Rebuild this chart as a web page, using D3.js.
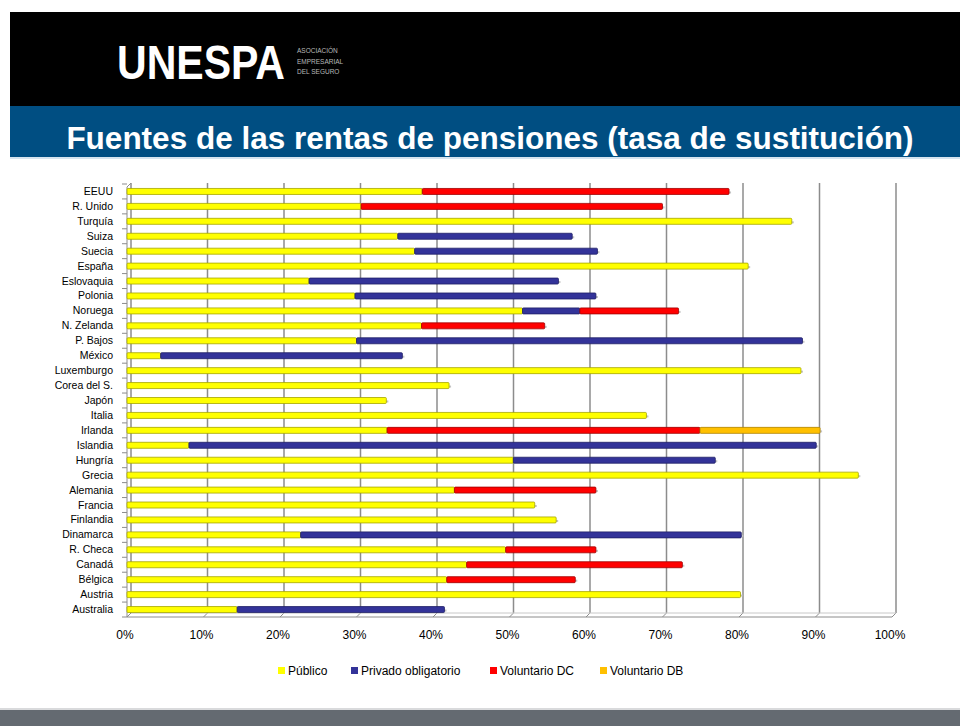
<!DOCTYPE html>
<html>
<head>
<meta charset="utf-8">
<script src="https://cdn.jsdelivr.net/npm/d3@7"></script>
<style>
  body { margin: 0; background: #fff; }
  text { font-family: "Liberation Sans", Arial, sans-serif; }
</style>
</head>
<body>
<script>
// data (tasa de sustitución, %)
var countries = ["EEUU", "R. Unido", "Turquía", "Suiza", "Suecia", "España", "Eslovaquia", "Polonia",
  "Noruega", "N. Zelanda", "P. Bajos", "México", "Luxemburgo", "Corea del S.", "Japón", "Italia",
  "Irlanda", "Islandia", "Hungría", "Grecia", "Alemania", "Francia", "Finlandia", "Dinamarca",
  "R. Checa", "Canadá", "Bélgica", "Austria", "Australia"]
var publico     = [38.6, 30.6, 86.9, 35.4, 37.6, 81.2, 23.8, 29.8, 51.7, 38.5, 30.0, 4.4, 88.1, 42.1, 33.9, 67.9,
  34.0, 8.1, 50.5, 95.6, 42.8, 53.3, 56.1, 22.7, 49.5, 44.4, 41.8, 80.2, 14.4]
var privado     = [0, 0, 0, 22.8, 23.9, 0, 32.6, 31.5, 7.5, 0, 58.3, 31.6, 0, 0, 0, 0,
  0, 82.0, 26.4, 0, 0, 0, 0, 57.6, 0, 0, 0, 0, 27.1]
var voluntarioDC = [40.1, 39.4, 0, 0, 0, 0, 0, 0, 12.9, 16.1, 0, 0, 0, 0, 0, 0,
  40.9, 0, 0, 0, 18.5, 0, 0, 0, 11.8, 28.2, 16.8, 0, 0]
var voluntarioDB = [0, 0, 0, 0, 0, 0, 0, 0, 0, 0, 0, 0, 0, 0, 0, 0,
  15.7, 0, 0, 0, 0, 0, 0, 0, 0, 0, 0, 0, 0]
var seriesNames = ["Público", "Privado obligatorio", "Voluntario DC", "Voluntario DB"]
var seriesColors = ["#ffff00", "#333399", "#ff0000", "#ffc000"]
var seriesEdges = ["#a6a600", "#1f1f66", "#a00000", "#b08400"]
var ticks = [0, 10, 20, 30, 40, 50, 60, 70, 80, 90, 100]

var svg = d3.select("body").append("svg")
  .attr('width', 960)
  .attr('height', 726)

// header bands
svg.append("rect").attr('x', 10).attr('y', 12).attr('width', 950).attr('height', 94).attr('fill', '#000')
svg.append("rect").attr('x', 10).attr('y', 106).attr('width', 950).attr('height', 51).attr('fill', '#004e82')
svg.append("rect").attr('x', 10).attr('y', 157).attr('width', 950).attr('height', 2).attr('fill', '#d6e4ef')

svg.append("text")
  .attr('x', 117).attr('y', 79)
  .attr('font-size', 48).attr('font-weight', 'bold')
  .attr('fill', '#fff')
  .attr('textLength', 168).attr('lengthAdjust', 'spacingAndGlyphs')
  .text("UNESPA")

var sub = ["ASOCIACIÓN", "EMPRESARIAL", "DEL SEGURO"]
svg.selectAll("text.sub").data(sub).enter().append("text")
  .attr('class', 'sub')
  .attr('x', 297)
  .attr('y', function(d, i) { return 53 + i * 10.5 })
  .attr('font-size', 6.5)
  .attr('fill', '#b8b8b8')
  .text(function(d) { return d })

svg.append("text")
  .attr('x', 490).attr('y', 149)
  .attr('text-anchor', 'middle')
  .attr('font-size', 31.5).attr('font-weight', 'bold')
  .attr('fill', '#fff')
  .text("Fuentes de las rentas de pensiones (tasa de sustitución)")

// bottom bar
svg.append("rect").attr('x', 0).attr('y', 708).attr('width', 960).attr('height', 2).attr('fill', '#d9dadc')
svg.append("rect").attr('x', 0).attr('y', 710).attr('width', 960).attr('height', 16).attr('fill', '#646a71')

// chart
var depth = 4
var x = d3.scaleLinear().domain([0, 100]).range([127, 892])
var y = d3.scaleBand().domain(countries).range([184, 617]).paddingInner(0)

var g = svg.append("g")

// back wall gridlines
g.selectAll("line.grid").data(ticks).enter().append("line")
  .attr('x1', function(d) { return x(d) + depth }).attr('x2', function(d) { return x(d) + depth })
  .attr('y1', 183).attr('y2', 617 - depth)
  .attr('stroke', '#8c8c8c').attr('stroke-width', 1.5)

// floor edges
g.selectAll("line.floor").data(ticks).enter().append("line")
  .attr('x1', function(d) { return x(d) }).attr('x2', function(d) { return x(d) + depth })
  .attr('y1', 617).attr('y2', 617 - depth)
  .attr('stroke', '#8c8c8c').attr('stroke-width', 1)
g.append("line")
  .attr('x1', x(0) + depth).attr('x2', x(100) + depth)
  .attr('y1', 617 - depth).attr('y2', 617 - depth)
  .attr('stroke', '#c8c8c8')
g.append("line")
  .attr('x1', x(0)).attr('x2', x(100))
  .attr('y1', 617).attr('y2', 617)
  .attr('stroke', '#8c8c8c')

// left axis
g.append("line").attr('x1', x(0)).attr('x2', x(0)).attr('y1', 187).attr('y2', 617).attr('stroke', '#8c8c8c')
g.append("line").attr('x1', x(0)).attr('x2', x(0) + depth).attr('y1', 187).attr('y2', 183).attr('stroke', '#8c8c8c')
g.selectAll("line.ytick").data(d3.range(countries.length + 1)).enter().append("line")
  .attr('x1', x(0) - 5).attr('x2', x(0))
  .attr('y1', function(d) { return 184 + d * y.step() }).attr('y2', function(d) { return 184 + d * y.step() })
  .attr('stroke', '#8c8c8c')

// stacked series
var rows = countries.map(function(c, i) {
  return { country: c, "Público": publico[i], "Privado obligatorio": privado[i],
    "Voluntario DC": voluntarioDC[i], "Voluntario DB": voluntarioDB[i] }
})
var stacked = d3.stack().keys(seriesNames)(rows)
var barH = 6

// bar shadows (3D side)
g.selectAll("rect.shadow").data(rows).enter().append("rect")
  .attr('x', x(0) + 2)
  .attr('y', function(d) { return y(d.country) + y.step() / 2 - barH / 2 + 3 })
  .attr('width', function(d) {
    return x(d["Público"] + d["Privado obligatorio"] + d["Voluntario DC"] + d["Voluntario DB"]) - x(0)
  })
  .attr('height', 2)
  .attr('fill', '#c4c4c4')

stacked.forEach(function(layer, k) {
  g.selectAll("rect.s" + k).data(layer.filter(function(d) { return d[1] - d[0] > 0 })).enter().append("rect")
    .attr('class', "s" + k)
    .attr('x', function(d) { return x(d[0]) })
    .attr('y', function(d) { return y(d.data.country) + y.step() / 2 - barH / 2 })
    .attr('width', function(d) { return x(d[1]) - x(d[0]) })
    .attr('height', barH)
    .attr('rx', 1)
    .attr('fill', seriesColors[k])
    .attr('stroke', seriesEdges[k])
    .attr('stroke-width', 0.8)
})

// category labels
g.selectAll("text.cat").data(countries).enter().append("text")
  .attr('x', 113)
  .attr('y', function(d) { return y(d) + y.step() / 2 + 3.5 })
  .attr('text-anchor', 'end')
  .attr('font-size', 10.5)
  .attr('fill', '#000')
  .text(function(d) { return d })

// x tick labels
g.selectAll("text.xt").data(ticks).enter().append("text")
  .attr('x', function(d) { return x(d) - 2 })
  .attr('y', 639)
  .attr('text-anchor', 'middle')
  .attr('font-size', 12)
  .attr('fill', '#000')
  .text(function(d) { return d + "%" })

// legend
var legendX = [278, 351, 490, 600]
var leg = svg.selectAll("g.leg").data(seriesNames).enter().append("g")
  .attr('transform', function(d, i) { return "translate(" + legendX[i] + ",671)" })
leg.append("rect").attr('x', 0).attr('y', -4).attr('width', 7).attr('height', 7)
  .attr('fill', function(d, i) { return seriesColors[i] })
leg.append("text").attr('x', 10).attr('y', 4).attr('font-size', 12).attr('fill', '#000')
  .text(function(d) { return d })
</script>
</body>
</html>
